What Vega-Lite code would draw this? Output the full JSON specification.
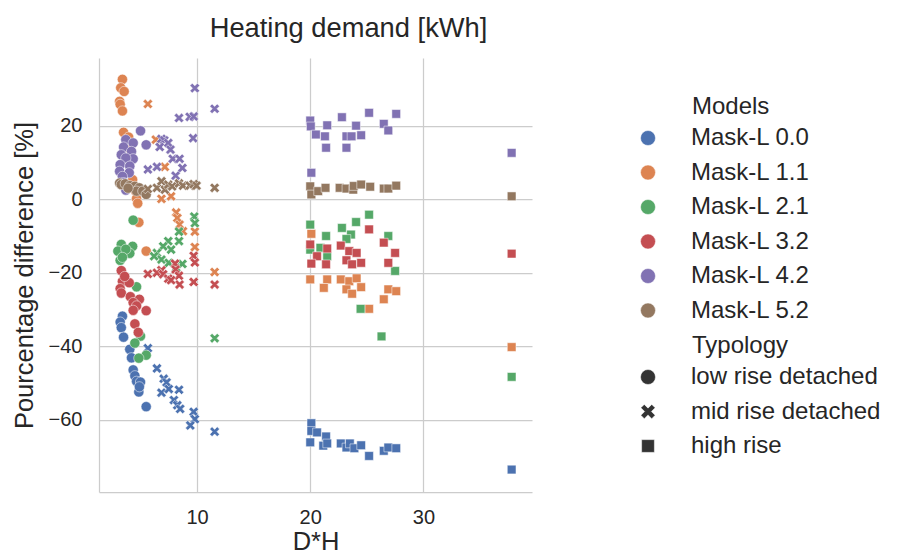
{
"$schema": "https://vega.github.io/schema/vega-lite/v6.json",
"width": 433, "height": 434,
"autosize": {"type": "none"},
"padding": {"left": 99, "top": 58, "right": 371, "bottom": 64},
"background": "white",
"title": {"text": "Heating demand [kWh]", "font": "Liberation Sans", "fontSize": 27.3, "fontWeight": "normal", "color": "#262626", "anchor": "middle", "frame": "group", "dx": 33, "offset": 16},
"datasets": {
"points": [
{"model":"Mask-L 0.0","typology":"low rise detached","dh":3.4,"diff":-31.8},
{"model":"Mask-L 0.0","typology":"low rise detached","dh":3.2,"diff":-33.4},
{"model":"Mask-L 0.0","typology":"low rise detached","dh":3.3,"diff":-34.9},
{"model":"Mask-L 0.0","typology":"low rise detached","dh":3.5,"diff":-37.5},
{"model":"Mask-L 0.0","typology":"low rise detached","dh":4.05,"diff":-40.8},
{"model":"Mask-L 0.0","typology":"low rise detached","dh":4.2,"diff":-43.1},
{"model":"Mask-L 0.0","typology":"low rise detached","dh":4.35,"diff":-46.4},
{"model":"Mask-L 0.0","typology":"low rise detached","dh":4.5,"diff":-48.0},
{"model":"Mask-L 0.0","typology":"low rise detached","dh":4.65,"diff":-49.5},
{"model":"Mask-L 0.0","typology":"low rise detached","dh":5.0,"diff":-49.7},
{"model":"Mask-L 0.0","typology":"low rise detached","dh":4.85,"diff":-52.4},
{"model":"Mask-L 0.0","typology":"low rise detached","dh":5.5,"diff":-56.4},
{"model":"Mask-L 0.0","typology":"low rise detached","dh":4.9,"diff":-51.0},
{"model":"Mask-L 0.0","typology":"mid rise detached","dh":5.65,"diff":-40.5},
{"model":"Mask-L 0.0","typology":"mid rise detached","dh":6.45,"diff":-46.0},
{"model":"Mask-L 0.0","typology":"mid rise detached","dh":7.05,"diff":-48.8},
{"model":"Mask-L 0.0","typology":"mid rise detached","dh":7.3,"diff":-49.8},
{"model":"Mask-L 0.0","typology":"mid rise detached","dh":6.85,"diff":-52.6},
{"model":"Mask-L 0.0","typology":"mid rise detached","dh":7.5,"diff":-51.6},
{"model":"Mask-L 0.0","typology":"mid rise detached","dh":8.4,"diff":-51.8},
{"model":"Mask-L 0.0","typology":"mid rise detached","dh":7.95,"diff":-54.6},
{"model":"Mask-L 0.0","typology":"mid rise detached","dh":8.25,"diff":-56.0},
{"model":"Mask-L 0.0","typology":"mid rise detached","dh":8.5,"diff":-57.0},
{"model":"Mask-L 0.0","typology":"mid rise detached","dh":9.7,"diff":-57.8},
{"model":"Mask-L 0.0","typology":"mid rise detached","dh":9.8,"diff":-59.8},
{"model":"Mask-L 0.0","typology":"mid rise detached","dh":9.4,"diff":-61.5},
{"model":"Mask-L 0.0","typology":"mid rise detached","dh":11.55,"diff":-63.2},
{"model":"Mask-L 0.0","typology":"high rise","dh":20.1,"diff":-60.9},
{"model":"Mask-L 0.0","typology":"high rise","dh":20.1,"diff":-63.0},
{"model":"Mask-L 0.0","typology":"high rise","dh":20.6,"diff":-63.4},
{"model":"Mask-L 0.0","typology":"high rise","dh":21.4,"diff":-64.5},
{"model":"Mask-L 0.0","typology":"high rise","dh":20.0,"diff":-66.1},
{"model":"Mask-L 0.0","typology":"high rise","dh":21.15,"diff":-67.0},
{"model":"Mask-L 0.0","typology":"high rise","dh":21.5,"diff":-66.4},
{"model":"Mask-L 0.0","typology":"high rise","dh":22.7,"diff":-66.4},
{"model":"Mask-L 0.0","typology":"high rise","dh":23.2,"diff":-67.5},
{"model":"Mask-L 0.0","typology":"high rise","dh":23.5,"diff":-66.4},
{"model":"Mask-L 0.0","typology":"high rise","dh":23.9,"diff":-67.7},
{"model":"Mask-L 0.0","typology":"high rise","dh":24.5,"diff":-66.9},
{"model":"Mask-L 0.0","typology":"high rise","dh":25.2,"diff":-69.8},
{"model":"Mask-L 0.0","typology":"high rise","dh":26.5,"diff":-68.4},
{"model":"Mask-L 0.0","typology":"high rise","dh":26.9,"diff":-67.5},
{"model":"Mask-L 0.0","typology":"high rise","dh":27.6,"diff":-67.7},
{"model":"Mask-L 0.0","typology":"high rise","dh":37.8,"diff":-73.5},
{"model":"Mask-L 1.1","typology":"low rise detached","dh":3.4,"diff":32.6},
{"model":"Mask-L 1.1","typology":"low rise detached","dh":3.25,"diff":30.3},
{"model":"Mask-L 1.1","typology":"low rise detached","dh":3.55,"diff":29.3},
{"model":"Mask-L 1.1","typology":"low rise detached","dh":3.15,"diff":26.6},
{"model":"Mask-L 1.1","typology":"low rise detached","dh":3.2,"diff":25.8},
{"model":"Mask-L 1.1","typology":"low rise detached","dh":3.4,"diff":24.0},
{"model":"Mask-L 1.1","typology":"low rise detached","dh":3.5,"diff":18.2},
{"model":"Mask-L 1.1","typology":"low rise detached","dh":3.95,"diff":16.9},
{"model":"Mask-L 1.1","typology":"low rise detached","dh":4.1,"diff":13.5},
{"model":"Mask-L 1.1","typology":"low rise detached","dh":4.3,"diff":5.3},
{"model":"Mask-L 1.1","typology":"low rise detached","dh":4.55,"diff":2.3},
{"model":"Mask-L 1.1","typology":"low rise detached","dh":4.65,"diff":0.2},
{"model":"Mask-L 1.1","typology":"low rise detached","dh":4.75,"diff":-1.1},
{"model":"Mask-L 1.1","typology":"low rise detached","dh":4.85,"diff":-6.3},
{"model":"Mask-L 1.1","typology":"low rise detached","dh":5.5,"diff":-14.1},
{"model":"Mask-L 1.1","typology":"mid rise detached","dh":5.65,"diff":25.9},
{"model":"Mask-L 1.1","typology":"mid rise detached","dh":6.35,"diff":16.2},
{"model":"Mask-L 1.1","typology":"mid rise detached","dh":7.15,"diff":8.8},
{"model":"Mask-L 1.1","typology":"mid rise detached","dh":6.85,"diff":0.1},
{"model":"Mask-L 1.1","typology":"mid rise detached","dh":7.7,"diff":0.8},
{"model":"Mask-L 1.1","typology":"mid rise detached","dh":8.15,"diff":-3.6},
{"model":"Mask-L 1.1","typology":"mid rise detached","dh":8.25,"diff":-5.1},
{"model":"Mask-L 1.1","typology":"mid rise detached","dh":8.45,"diff":-6.9},
{"model":"Mask-L 1.1","typology":"mid rise detached","dh":8.75,"diff":-8.7},
{"model":"Mask-L 1.1","typology":"mid rise detached","dh":9.8,"diff":-8.8},
{"model":"Mask-L 1.1","typology":"mid rise detached","dh":9.8,"diff":-13.0},
{"model":"Mask-L 1.1","typology":"mid rise detached","dh":11.55,"diff":-19.8},
{"model":"Mask-L 1.1","typology":"high rise","dh":20.1,"diff":-9.4},
{"model":"Mask-L 1.1","typology":"high rise","dh":20.0,"diff":-21.8},
{"model":"Mask-L 1.1","typology":"high rise","dh":21.5,"diff":-21.8},
{"model":"Mask-L 1.1","typology":"high rise","dh":21.2,"diff":-24.1},
{"model":"Mask-L 1.1","typology":"high rise","dh":22.7,"diff":-21.8},
{"model":"Mask-L 1.1","typology":"high rise","dh":23.45,"diff":-22.3},
{"model":"Mask-L 1.1","typology":"high rise","dh":24.1,"diff":-21.5},
{"model":"Mask-L 1.1","typology":"high rise","dh":23.2,"diff":-24.5},
{"model":"Mask-L 1.1","typology":"high rise","dh":23.7,"diff":-25.7},
{"model":"Mask-L 1.1","typology":"high rise","dh":24.5,"diff":-23.9},
{"model":"Mask-L 1.1","typology":"high rise","dh":26.9,"diff":-24.5},
{"model":"Mask-L 1.1","typology":"high rise","dh":27.6,"diff":-25.0},
{"model":"Mask-L 1.1","typology":"high rise","dh":26.5,"diff":-27.2},
{"model":"Mask-L 1.1","typology":"high rise","dh":25.2,"diff":-29.8},
{"model":"Mask-L 1.1","typology":"high rise","dh":37.8,"diff":-40.2},
{"model":"Mask-L 2.1","typology":"low rise detached","dh":4.35,"diff":-5.7},
{"model":"Mask-L 2.1","typology":"low rise detached","dh":3.3,"diff":-12.3},
{"model":"Mask-L 2.1","typology":"low rise detached","dh":4.3,"diff":-12.8},
{"model":"Mask-L 2.1","typology":"low rise detached","dh":3.0,"diff":-14.1},
{"model":"Mask-L 2.1","typology":"low rise detached","dh":4.05,"diff":-14.7},
{"model":"Mask-L 2.1","typology":"low rise detached","dh":3.7,"diff":-13.6},
{"model":"Mask-L 2.1","typology":"low rise detached","dh":3.2,"diff":-16.6},
{"model":"Mask-L 2.1","typology":"low rise detached","dh":3.4,"diff":-15.8},
{"model":"Mask-L 2.1","typology":"low rise detached","dh":4.65,"diff":-23.8},
{"model":"Mask-L 2.1","typology":"low rise detached","dh":5.0,"diff":-37.2},
{"model":"Mask-L 2.1","typology":"low rise detached","dh":4.5,"diff":-39.1},
{"model":"Mask-L 2.1","typology":"low rise detached","dh":5.5,"diff":-42.4},
{"model":"Mask-L 2.1","typology":"low rise detached","dh":4.85,"diff":-43.2},
{"model":"Mask-L 2.1","typology":"mid rise detached","dh":9.75,"diff":-4.7},
{"model":"Mask-L 2.1","typology":"mid rise detached","dh":9.8,"diff":-6.5},
{"model":"Mask-L 2.1","typology":"mid rise detached","dh":8.4,"diff":-8.8},
{"model":"Mask-L 2.1","typology":"mid rise detached","dh":8.4,"diff":-11.4},
{"model":"Mask-L 2.1","typology":"mid rise detached","dh":7.45,"diff":-11.4},
{"model":"Mask-L 2.1","typology":"mid rise detached","dh":7.7,"diff":-13.7},
{"model":"Mask-L 2.1","typology":"mid rise detached","dh":7.0,"diff":-12.8},
{"model":"Mask-L 2.1","typology":"mid rise detached","dh":6.45,"diff":-14.6},
{"model":"Mask-L 2.1","typology":"mid rise detached","dh":6.85,"diff":-16.4},
{"model":"Mask-L 2.1","typology":"mid rise detached","dh":7.5,"diff":-17.3},
{"model":"Mask-L 2.1","typology":"mid rise detached","dh":8.15,"diff":-18.6},
{"model":"Mask-L 2.1","typology":"mid rise detached","dh":8.7,"diff":-17.6},
{"model":"Mask-L 2.1","typology":"mid rise detached","dh":6.2,"diff":-15.5},
{"model":"Mask-L 2.1","typology":"mid rise detached","dh":11.55,"diff":-37.8},
{"model":"Mask-L 2.1","typology":"high rise","dh":25.2,"diff":-4.2},
{"model":"Mask-L 2.1","typology":"high rise","dh":24.05,"diff":-6.2},
{"model":"Mask-L 2.1","typology":"high rise","dh":22.8,"diff":-7.8},
{"model":"Mask-L 2.1","typology":"high rise","dh":20.0,"diff":-6.9},
{"model":"Mask-L 2.1","typology":"high rise","dh":21.4,"diff":-10.0},
{"model":"Mask-L 2.1","typology":"high rise","dh":23.6,"diff":-9.6},
{"model":"Mask-L 2.1","typology":"high rise","dh":23.2,"diff":-10.8},
{"model":"Mask-L 2.1","typology":"high rise","dh":26.9,"diff":-10.0},
{"model":"Mask-L 2.1","typology":"high rise","dh":20.0,"diff":-13.7},
{"model":"Mask-L 2.1","typology":"high rise","dh":20.9,"diff":-13.2},
{"model":"Mask-L 2.1","typology":"high rise","dh":21.5,"diff":-15.5},
{"model":"Mask-L 2.1","typology":"high rise","dh":27.5,"diff":-19.5},
{"model":"Mask-L 2.1","typology":"high rise","dh":24.45,"diff":-29.8},
{"model":"Mask-L 2.1","typology":"high rise","dh":26.3,"diff":-37.3},
{"model":"Mask-L 2.1","typology":"high rise","dh":37.8,"diff":-48.3},
{"model":"Mask-L 3.2","typology":"low rise detached","dh":3.3,"diff":-19.4},
{"model":"Mask-L 3.2","typology":"low rise detached","dh":3.4,"diff":-22.3},
{"model":"Mask-L 3.2","typology":"low rise detached","dh":4.0,"diff":-22.7},
{"model":"Mask-L 3.2","typology":"low rise detached","dh":3.2,"diff":-24.3},
{"model":"Mask-L 3.2","typology":"low rise detached","dh":3.3,"diff":-25.5},
{"model":"Mask-L 3.2","typology":"low rise detached","dh":4.1,"diff":-26.5},
{"model":"Mask-L 3.2","typology":"low rise detached","dh":4.9,"diff":-27.2},
{"model":"Mask-L 3.2","typology":"low rise detached","dh":4.35,"diff":-28.1},
{"model":"Mask-L 3.2","typology":"low rise detached","dh":4.65,"diff":-29.0},
{"model":"Mask-L 3.2","typology":"low rise detached","dh":5.5,"diff":-30.3},
{"model":"Mask-L 3.2","typology":"low rise detached","dh":4.35,"diff":-30.2},
{"model":"Mask-L 3.2","typology":"low rise detached","dh":4.5,"diff":-33.9},
{"model":"Mask-L 3.2","typology":"low rise detached","dh":4.8,"diff":-36.2},
{"model":"Mask-L 3.2","typology":"low rise detached","dh":3.6,"diff":-21.0},
{"model":"Mask-L 3.2","typology":"mid rise detached","dh":9.7,"diff":-15.4},
{"model":"Mask-L 3.2","typology":"mid rise detached","dh":9.8,"diff":-17.2},
{"model":"Mask-L 3.2","typology":"mid rise detached","dh":8.05,"diff":-17.5},
{"model":"Mask-L 3.2","typology":"mid rise detached","dh":8.1,"diff":-19.1},
{"model":"Mask-L 3.2","typology":"mid rise detached","dh":6.85,"diff":-19.3},
{"model":"Mask-L 3.2","typology":"mid rise detached","dh":5.65,"diff":-20.3},
{"model":"Mask-L 3.2","typology":"mid rise detached","dh":6.45,"diff":-20.0},
{"model":"Mask-L 3.2","typology":"mid rise detached","dh":7.0,"diff":-20.4},
{"model":"Mask-L 3.2","typology":"mid rise detached","dh":7.45,"diff":-21.6},
{"model":"Mask-L 3.2","typology":"mid rise detached","dh":8.4,"diff":-20.8},
{"model":"Mask-L 3.2","typology":"mid rise detached","dh":8.45,"diff":-23.2},
{"model":"Mask-L 3.2","typology":"mid rise detached","dh":9.7,"diff":-22.5},
{"model":"Mask-L 3.2","typology":"mid rise detached","dh":11.55,"diff":-23.2},
{"model":"Mask-L 3.2","typology":"mid rise detached","dh":7.7,"diff":-22.0},
{"model":"Mask-L 3.2","typology":"high rise","dh":25.2,"diff":-8.2},
{"model":"Mask-L 3.2","typology":"high rise","dh":20.0,"diff":-12.3},
{"model":"Mask-L 3.2","typology":"high rise","dh":21.5,"diff":-13.4},
{"model":"Mask-L 3.2","typology":"high rise","dh":22.7,"diff":-12.6},
{"model":"Mask-L 3.2","typology":"high rise","dh":23.45,"diff":-14.1},
{"model":"Mask-L 3.2","typology":"high rise","dh":24.1,"diff":-14.6},
{"model":"Mask-L 3.2","typology":"high rise","dh":26.5,"diff":-11.8},
{"model":"Mask-L 3.2","typology":"high rise","dh":27.5,"diff":-14.6},
{"model":"Mask-L 3.2","typology":"high rise","dh":20.6,"diff":-15.5},
{"model":"Mask-L 3.2","typology":"high rise","dh":20.1,"diff":-17.5},
{"model":"Mask-L 3.2","typology":"high rise","dh":21.4,"diff":-17.7},
{"model":"Mask-L 3.2","typology":"high rise","dh":23.2,"diff":-16.6},
{"model":"Mask-L 3.2","typology":"high rise","dh":23.7,"diff":-17.7},
{"model":"Mask-L 3.2","typology":"high rise","dh":24.5,"diff":-17.3},
{"model":"Mask-L 3.2","typology":"high rise","dh":26.9,"diff":-17.3},
{"model":"Mask-L 3.2","typology":"high rise","dh":37.8,"diff":-14.8},
{"model":"Mask-L 4.2","typology":"low rise detached","dh":5.0,"diff":18.6},
{"model":"Mask-L 4.2","typology":"low rise detached","dh":5.5,"diff":14.8},
{"model":"Mask-L 4.2","typology":"low rise detached","dh":3.7,"diff":16.2},
{"model":"Mask-L 4.2","typology":"low rise detached","dh":3.5,"diff":14.2},
{"model":"Mask-L 4.2","typology":"low rise detached","dh":4.35,"diff":15.3},
{"model":"Mask-L 4.2","typology":"low rise detached","dh":4.2,"diff":13.0},
{"model":"Mask-L 4.2","typology":"low rise detached","dh":3.3,"diff":12.1},
{"model":"Mask-L 4.2","typology":"low rise detached","dh":4.35,"diff":11.0},
{"model":"Mask-L 4.2","typology":"low rise detached","dh":3.7,"diff":11.2},
{"model":"Mask-L 4.2","typology":"low rise detached","dh":3.2,"diff":9.4},
{"model":"Mask-L 4.2","typology":"low rise detached","dh":4.05,"diff":9.0},
{"model":"Mask-L 4.2","typology":"low rise detached","dh":3.15,"diff":7.6},
{"model":"Mask-L 4.2","typology":"low rise detached","dh":4.0,"diff":7.2},
{"model":"Mask-L 4.2","typology":"low rise detached","dh":3.4,"diff":6.2},
{"model":"Mask-L 4.2","typology":"low rise detached","dh":3.7,"diff":2.5},
{"model":"Mask-L 4.2","typology":"low rise detached","dh":3.5,"diff":4.5},
{"model":"Mask-L 4.2","typology":"mid rise detached","dh":9.8,"diff":30.2},
{"model":"Mask-L 4.2","typology":"mid rise detached","dh":11.55,"diff":24.6},
{"model":"Mask-L 4.2","typology":"mid rise detached","dh":8.4,"diff":22.1},
{"model":"Mask-L 4.2","typology":"mid rise detached","dh":9.35,"diff":22.4},
{"model":"Mask-L 4.2","typology":"mid rise detached","dh":9.7,"diff":22.5},
{"model":"Mask-L 4.2","typology":"mid rise detached","dh":9.65,"diff":16.6},
{"model":"Mask-L 4.2","typology":"mid rise detached","dh":6.85,"diff":16.4},
{"model":"Mask-L 4.2","typology":"mid rise detached","dh":7.1,"diff":16.0},
{"model":"Mask-L 4.2","typology":"mid rise detached","dh":6.7,"diff":14.2},
{"model":"Mask-L 4.2","typology":"mid rise detached","dh":7.45,"diff":15.3},
{"model":"Mask-L 4.2","typology":"mid rise detached","dh":7.65,"diff":13.5},
{"model":"Mask-L 4.2","typology":"mid rise detached","dh":7.85,"diff":11.0},
{"model":"Mask-L 4.2","typology":"mid rise detached","dh":8.45,"diff":11.0},
{"model":"Mask-L 4.2","typology":"mid rise detached","dh":8.7,"diff":8.5},
{"model":"Mask-L 4.2","typology":"mid rise detached","dh":6.45,"diff":8.8},
{"model":"Mask-L 4.2","typology":"mid rise detached","dh":5.65,"diff":8.1},
{"model":"Mask-L 4.2","typology":"mid rise detached","dh":8.1,"diff":6.4},
{"model":"Mask-L 4.2","typology":"high rise","dh":20.0,"diff":21.4},
{"model":"Mask-L 4.2","typology":"high rise","dh":20.05,"diff":19.8},
{"model":"Mask-L 4.2","typology":"high rise","dh":20.5,"diff":17.6},
{"model":"Mask-L 4.2","typology":"high rise","dh":21.3,"diff":17.1},
{"model":"Mask-L 4.2","typology":"high rise","dh":21.5,"diff":20.1},
{"model":"Mask-L 4.2","typology":"high rise","dh":22.8,"diff":22.3},
{"model":"Mask-L 4.2","typology":"high rise","dh":21.4,"diff":14.0},
{"model":"Mask-L 4.2","typology":"high rise","dh":23.2,"diff":17.1},
{"model":"Mask-L 4.2","typology":"high rise","dh":23.65,"diff":17.1},
{"model":"Mask-L 4.2","typology":"high rise","dh":24.05,"diff":20.0},
{"model":"Mask-L 4.2","typology":"high rise","dh":24.5,"diff":17.4},
{"model":"Mask-L 4.2","typology":"high rise","dh":23.2,"diff":14.0},
{"model":"Mask-L 4.2","typology":"high rise","dh":25.2,"diff":23.5},
{"model":"Mask-L 4.2","typology":"high rise","dh":26.5,"diff":20.5},
{"model":"Mask-L 4.2","typology":"high rise","dh":26.9,"diff":18.7},
{"model":"Mask-L 4.2","typology":"high rise","dh":27.6,"diff":23.2},
{"model":"Mask-L 4.2","typology":"high rise","dh":20.1,"diff":7.2},
{"model":"Mask-L 4.2","typology":"high rise","dh":37.8,"diff":12.6},
{"model":"Mask-L 5.2","typology":"low rise detached","dh":3.15,"diff":4.4},
{"model":"Mask-L 5.2","typology":"low rise detached","dh":3.3,"diff":4.0},
{"model":"Mask-L 5.2","typology":"low rise detached","dh":3.65,"diff":4.2},
{"model":"Mask-L 5.2","typology":"low rise detached","dh":4.05,"diff":3.7},
{"model":"Mask-L 5.2","typology":"low rise detached","dh":4.5,"diff":3.5},
{"model":"Mask-L 5.2","typology":"low rise detached","dh":4.9,"diff":3.1},
{"model":"Mask-L 5.2","typology":"low rise detached","dh":4.65,"diff":2.2},
{"model":"Mask-L 5.2","typology":"low rise detached","dh":5.2,"diff":2.2},
{"model":"Mask-L 5.2","typology":"low rise detached","dh":5.5,"diff":1.3},
{"model":"Mask-L 5.2","typology":"low rise detached","dh":3.9,"diff":3.0},
{"model":"Mask-L 5.2","typology":"mid rise detached","dh":5.65,"diff":2.8},
{"model":"Mask-L 5.2","typology":"mid rise detached","dh":6.45,"diff":3.1},
{"model":"Mask-L 5.2","typology":"mid rise detached","dh":6.85,"diff":4.9},
{"model":"Mask-L 5.2","typology":"mid rise detached","dh":7.15,"diff":2.6},
{"model":"Mask-L 5.2","typology":"mid rise detached","dh":7.45,"diff":4.0},
{"model":"Mask-L 5.2","typology":"mid rise detached","dh":7.8,"diff":3.5},
{"model":"Mask-L 5.2","typology":"mid rise detached","dh":8.4,"diff":4.3},
{"model":"Mask-L 5.2","typology":"mid rise detached","dh":8.75,"diff":3.7},
{"model":"Mask-L 5.2","typology":"mid rise detached","dh":9.35,"diff":3.7},
{"model":"Mask-L 5.2","typology":"mid rise detached","dh":9.7,"diff":4.1},
{"model":"Mask-L 5.2","typology":"mid rise detached","dh":9.95,"diff":3.7},
{"model":"Mask-L 5.2","typology":"mid rise detached","dh":11.55,"diff":3.1},
{"model":"Mask-L 5.2","typology":"high rise","dh":20.0,"diff":3.5},
{"model":"Mask-L 5.2","typology":"high rise","dh":20.1,"diff":1.3},
{"model":"Mask-L 5.2","typology":"high rise","dh":20.7,"diff":2.2},
{"model":"Mask-L 5.2","typology":"high rise","dh":21.35,"diff":3.1},
{"model":"Mask-L 5.2","typology":"high rise","dh":22.6,"diff":3.1},
{"model":"Mask-L 5.2","typology":"high rise","dh":23.2,"diff":2.9},
{"model":"Mask-L 5.2","typology":"high rise","dh":23.8,"diff":2.6},
{"model":"Mask-L 5.2","typology":"high rise","dh":23.85,"diff":3.6},
{"model":"Mask-L 5.2","typology":"high rise","dh":24.5,"diff":4.0},
{"model":"Mask-L 5.2","typology":"high rise","dh":25.3,"diff":3.4},
{"model":"Mask-L 5.2","typology":"high rise","dh":26.5,"diff":2.9},
{"model":"Mask-L 5.2","typology":"high rise","dh":26.9,"diff":2.9},
{"model":"Mask-L 5.2","typology":"high rise","dh":27.6,"diff":3.7},
{"model":"Mask-L 5.2","typology":"high rise","dh":37.8,"diff":0.8}
]
},
"data": {"name": "points"},
"mark": {"type": "point", "filled": true, "opacity": 1, "stroke": "white", "strokeWidth": 0.5, "size": 105},
"encoding": {
  "x": {"field": "dh", "type": "quantitative",
        "scale": {"domain": [1.33, 39.6], "nice": false, "zero": false},
        "axis": {"title": "D*H", "values": [10, 20, 30], "labelPadding": 15, "titlePadding": 2}},
  "y": {"field": "diff", "type": "quantitative",
        "scale": {"domain": [-79.6, 38.4], "nice": false, "zero": false},
        "axis": {"title": "Pourcentage difference [%]", "values": [-60, -40, -20, 0, 20], "labelPadding": 17, "titlePadding": 11}},
  "color": {"field": "model", "type": "nominal",
        "scale": {"domain": ["Mask-L 0.0", "Mask-L 1.1", "Mask-L 2.1", "Mask-L 3.2", "Mask-L 4.2", "Mask-L 5.2"],
                  "range": ["#4c72b0", "#dd8452", "#55a868", "#c44e52", "#8172b3", "#937860"]},
        "legend": {"title": "Models", "orient": "none", "legendX": 593, "legendY": 37, "symbolType": "circle"}},
  "shape": {"field": "typology", "type": "nominal",
        "scale": {"domain": ["low rise detached", "mid rise detached", "high rise"],
                  "range": ["circle", "M -0.95 -0.5 L -0.5 -0.95 L 0 -0.45 L 0.5 -0.95 L 0.95 -0.5 L 0.45 0 L 0.95 0.5 L 0.5 0.95 L 0 0.45 L -0.5 0.95 L -0.95 0.5 L -0.45 0 Z", "M -0.85 -0.85 L 0.85 -0.85 L 0.85 0.85 L -0.85 0.85 Z"]},
        "legend": {"title": "Typology", "orient": "none", "legendX": 593, "legendY": 276, "symbolFillColor": "#333333",
                   "encode": {"symbols": {"update": {"fill": {"value": "#333333"}, "stroke": {"value": "white"}}}}}}
},
"config": {
  "view": {"stroke": null},
  "axis": {"grid": true, "gridColor": "#cccccc", "gridWidth": 1.25, "domainColor": "#cccccc", "domainWidth": 1.25,
           "ticks": false, "tickSize": 0,
           "labelFont": "Liberation Sans", "labelFontSize": 20, "labelColor": "#262626",
           "titleFont": "Liberation Sans", "titleFontSize": 25.5, "titleFontWeight": "normal", "titleColor": "#262626"},
  "legend": {"padding": 0, "labelFont": "Liberation Sans", "labelFontSize": 24, "labelColor": "#262626", "labelLimit": 0,
             "titleFont": "Liberation Sans", "titleFontSize": 24, "titleFontWeight": "normal", "titleColor": "#262626",
             "titleAnchor": "start", "titleAlign": "left", "titlePadding": 7, "rowPadding": 10.5,
             "symbolSize": 225, "symbolOffset": -56, "labelOffset": 31, "symbolStrokeColor": "white", "symbolStrokeWidth": 0.5}
}
}
